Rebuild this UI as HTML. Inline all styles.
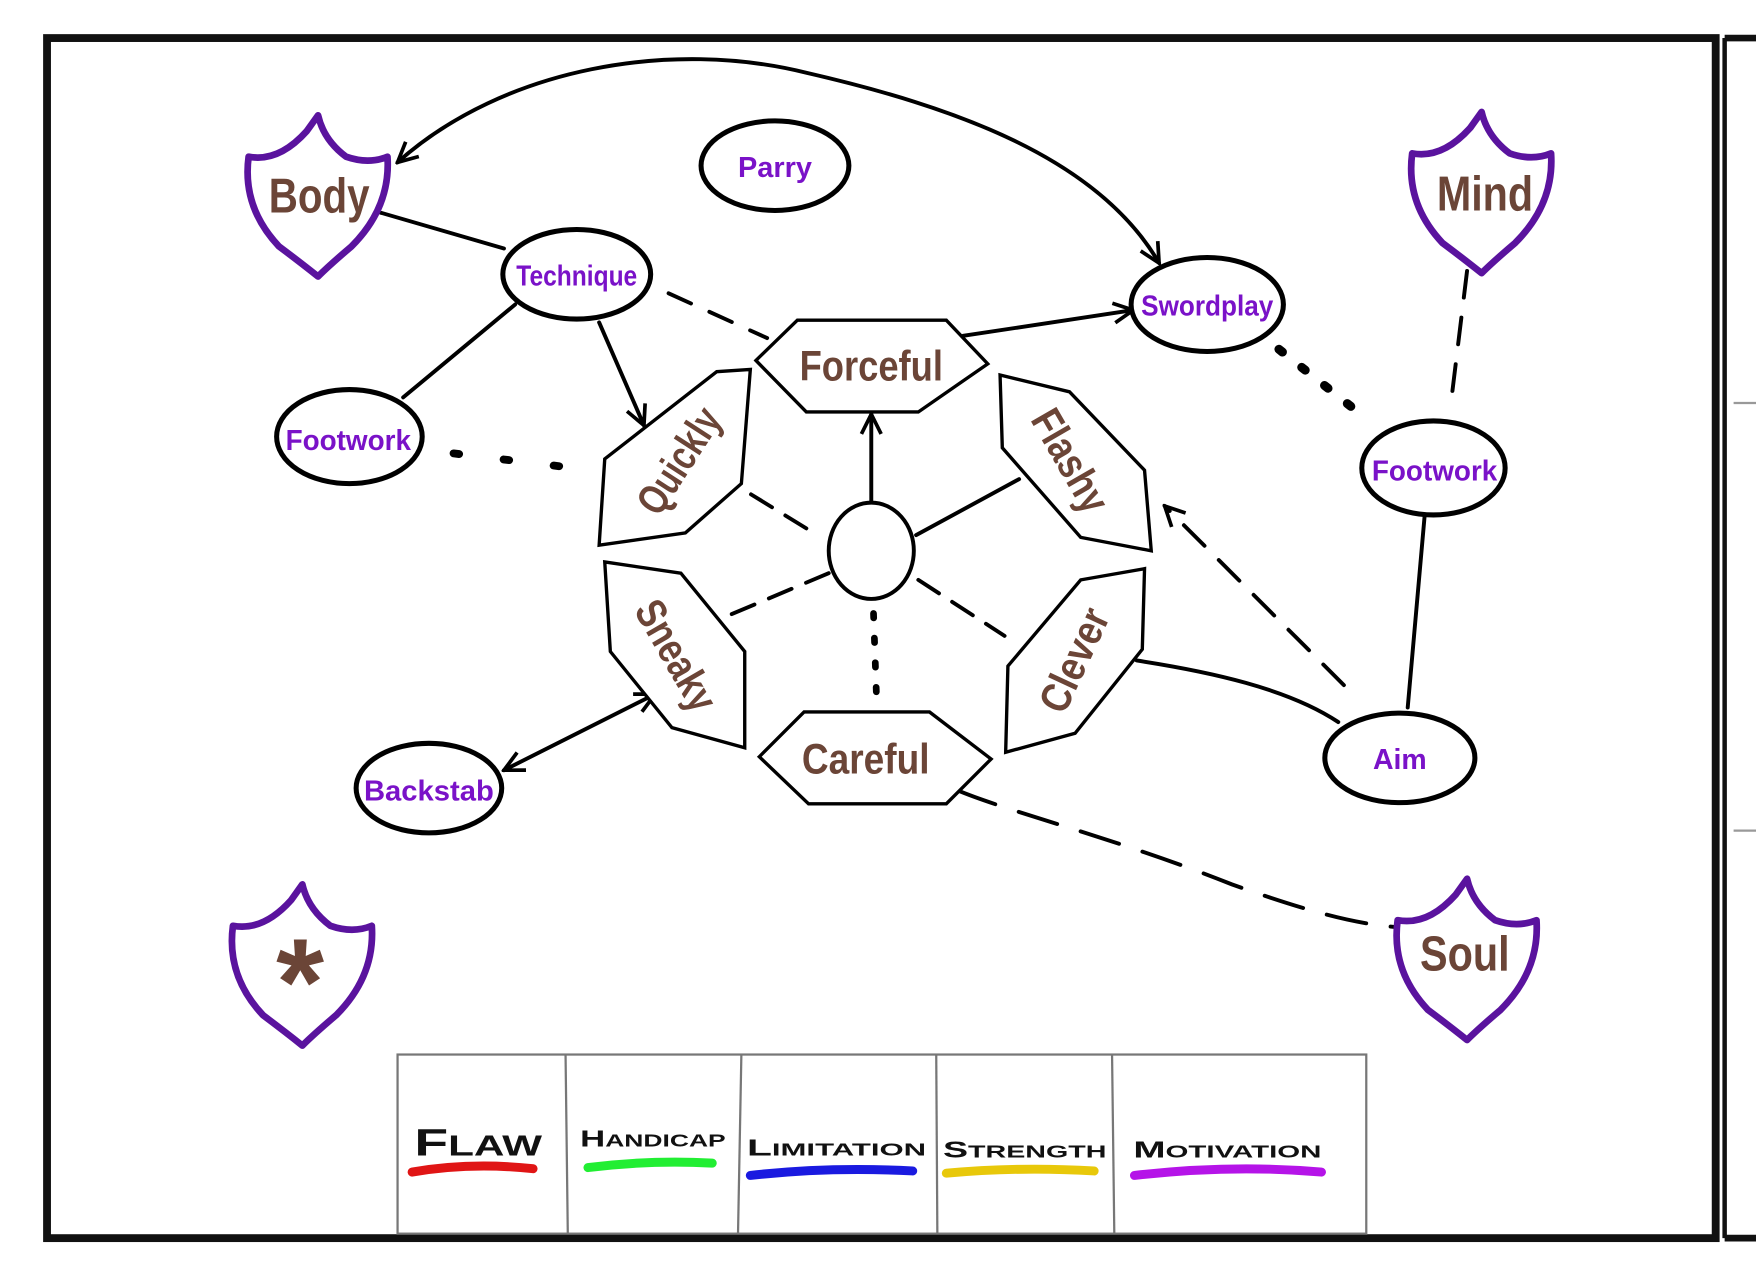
<!DOCTYPE html>
<html><head><meta charset="utf-8"><style>
html,body{margin:0;padding:0;background:#fff;}
svg{display:block;}
text{font-family:"Liberation Sans",sans-serif;font-weight:bold;}
.n{fill:#7a12c8;font-size:26px;}
.h{fill:#6b4537;font-size:38px;}
.s{fill:#6b4537;font-size:44px;}
.lg{fill:#111;font-weight:normal;font-family:"DejaVu Sans","Liberation Sans",sans-serif;}
</style></head><body>
<svg width="1756" height="1265" viewBox="0 0 1568 1130" preserveAspectRatio="none" xmlns="http://www.w3.org/2000/svg">
<defs>
<marker id="a" viewBox="0 0 20 20" refX="18" refY="10" markerWidth="22" markerHeight="22" orient="auto-start-reverse" markerUnits="userSpaceOnUse">
<path d="M2,2 L18,10 L2,18" fill="none" stroke="#000" stroke-width="3"/></marker>
<path id="sh" d="M-62,-35 Q-35,-30 -10,-58 L0,-72 Q5,-50 25,-35 Q45,-28 62,-35 Q65,10 30,45 Q10,62 0,72 Q-15,60 -35,45 Q-68,10 -62,-35 Z"/>
</defs>
<rect width="1568" height="1130" fill="#fff"/>
<!-- frames -->
<rect x="42" y="34" width="1490" height="1072" fill="none" stroke="#111" stroke-width="7"/>
<line x1="1540" y1="34" x2="1568" y2="34" stroke="#111" stroke-width="6"/>
<line x1="1540" y1="34" x2="1540" y2="1106" stroke="#111" stroke-width="4"/>
<line x1="1540" y1="1106" x2="1568" y2="1106" stroke="#111" stroke-width="6"/>
<line x1="1548" y1="360" x2="1568" y2="360" stroke="#999" stroke-width="2"/>
<line x1="1548" y1="742" x2="1568" y2="742" stroke="#999" stroke-width="2"/>

<g fill="none" stroke="#000" stroke-width="3.5" stroke-linecap="round">
<path d="M355,145 C450,60 600,35 720,65 C850,95 980,140 1035,235" marker-start="url(#a)" marker-end="url(#a)"/>
<line x1="340" y1="190" x2="450" y2="222"/>
<line x1="460" y1="272" x2="360" y2="355"/>
<line x1="535" y1="288" x2="575" y2="380" marker-end="url(#a)"/>
<line x1="597" y1="262" x2="685" y2="302" stroke-dasharray="22,18"/>
<line x1="405" y1="405" x2="512" y2="418" stroke-dasharray="5,40" stroke-width="7"/>
<line x1="860" y1="300" x2="1012" y2="277" marker-end="url(#a)"/>
<line x1="778" y1="450" x2="778" y2="370" marker-end="url(#a)"/>
<line x1="818" y1="478" x2="910" y2="428"/>
<line x1="720" y1="472" x2="655" y2="432" stroke-dasharray="22,14"/>
<line x1="740" y1="512" x2="650" y2="550" stroke-dasharray="22,14"/>
<line x1="780" y1="548" x2="783" y2="632" stroke-dasharray="4,18" stroke-width="6"/>
<line x1="820" y1="518" x2="897" y2="568" stroke-dasharray="22,14"/>
<line x1="1142" y1="312" x2="1215" y2="370" stroke-dasharray="4,22" stroke-width="8"/>
<line x1="1310" y1="242" x2="1295" y2="365" stroke-dasharray="24,18"/>
<line x1="1272" y1="462" x2="1257" y2="632"/>
<line x1="1200" y1="612" x2="1040" y2="452" stroke-dasharray="26,18" marker-end="url(#a)"/>
<path d="M1015,590 C1080,600 1150,615 1195,645"/>
<line x1="450" y1="688" x2="585" y2="620" marker-start="url(#a)" marker-end="url(#a)"/>
<path d="M855,706 C900,725 1000,750 1100,790 C1170,815 1210,825 1245,828" stroke-dasharray="36,22"/>
</g>

<!-- ellipses -->
<g fill="#fff" stroke="#000" stroke-width="4.5">
<ellipse cx="692" cy="148" rx="66" ry="40"/>
<ellipse cx="515" cy="245" rx="66" ry="40"/>
<ellipse cx="312" cy="390" rx="65" ry="42"/>
<ellipse cx="1078" cy="272" rx="68" ry="42"/>
<ellipse cx="1280" cy="418" rx="64" ry="42"/>
<ellipse cx="1250" cy="677" rx="67" ry="40"/>
<ellipse cx="383" cy="704" rx="65" ry="40"/>
<ellipse cx="778" cy="492" rx="38" ry="43" stroke-width="3.5"/>
</g>
<g class="n" text-anchor="middle">
<text x="692" y="158" textLength="66" lengthAdjust="spacingAndGlyphs">Parry</text>
<text x="515" y="255" textLength="108" lengthAdjust="spacingAndGlyphs">Technique</text>
<text x="311" y="402" textLength="112" lengthAdjust="spacingAndGlyphs">Footwork</text>
<text x="1078" y="282" textLength="118" lengthAdjust="spacingAndGlyphs">Swordplay</text>
<text x="1281" y="429" textLength="112" lengthAdjust="spacingAndGlyphs">Footwork</text>
<text x="1250" y="687" textLength="48" lengthAdjust="spacingAndGlyphs">Aim</text>
<text x="383" y="715" textLength="116" lengthAdjust="spacingAndGlyphs">Backstab</text>
</g>

<!-- hexagons -->
<g fill="#fff" stroke="#000" stroke-width="3">
<polygon points="675,322 712,286 845,286 882,325 820,368 720,368"/>
<polygon points="678,676 718,636 830,636 885,678 845,718 722,718"/>
<polygon points="540,410 640,332 670,330 662,432 612,476 535,487"/>
<polygon points="893,335 955,350 1022,420 1028,492 965,480 895,400"/>
<polygon points="540,502 608,512 665,582 665,668 600,650 545,582"/>
<polygon points="900,595 965,518 1022,508 1020,580 960,655 898,672"/>
</g>
<g class="h" text-anchor="middle">
<text x="778" y="340" textLength="128" lengthAdjust="spacingAndGlyphs">Forceful</text>
<text x="773" y="691" textLength="114" lengthAdjust="spacingAndGlyphs">Careful</text>
<text transform="translate(607,412) rotate(-57)" textLength="105" lengthAdjust="spacingAndGlyphs" y="12">Quickly</text>
<text transform="translate(955,412) rotate(60)" textLength="100" lengthAdjust="spacingAndGlyphs" y="12">Flashy</text>
<text transform="translate(603,586) rotate(60)" textLength="108" lengthAdjust="spacingAndGlyphs" y="12">Sneaky</text>
<text transform="translate(960,590) rotate(-65)" textLength="98" lengthAdjust="spacingAndGlyphs" y="12">Clever</text>
</g>

<!-- shields -->
<g fill="#fff" stroke="#5a139e" stroke-width="6" stroke-linejoin="round">
<use href="#sh" transform="translate(284,175)"/>
<use href="#sh" transform="translate(1323,172)"/>
<use href="#sh" transform="translate(1310,857)"/>
<use href="#sh" transform="translate(270,862)"/>
</g>
<g class="s" text-anchor="middle">
<text x="285" y="190" textLength="90" lengthAdjust="spacingAndGlyphs">Body</text>
<text x="1326" y="188" textLength="86" lengthAdjust="spacingAndGlyphs">Mind</text>
<text x="1308" y="867" textLength="80" lengthAdjust="spacingAndGlyphs">Soul</text>
<text x="268" y="915" style="font-size:110px">*</text>
</g>

<!-- legend -->
<g stroke="#777" stroke-width="2" fill="none">
<rect x="355" y="942" width="865" height="160"/>
<line x1="505" y1="942" x2="507" y2="1102"/>
<line x1="662" y1="942" x2="659" y2="1102"/>
<line x1="836" y1="942" x2="837" y2="1102"/>
<line x1="993" y1="942" x2="995" y2="1102"/>
</g>
<g class="lg" text-anchor="middle">
<text x="427" y="1032" style="font-size:34px" textLength="114" lengthAdjust="spacingAndGlyphs">F<tspan style="font-size:26px">LAW</tspan></text>
<text x="583" y="1024" style="font-size:21px" textLength="130" lengthAdjust="spacingAndGlyphs">H<tspan style="font-size:16px">ANDICAP</tspan></text>
<text x="747" y="1032" style="font-size:21px" textLength="160" lengthAdjust="spacingAndGlyphs">L<tspan style="font-size:16px">IMITATION</tspan></text>
<text x="915" y="1034" style="font-size:21px" textLength="146" lengthAdjust="spacingAndGlyphs">S<tspan style="font-size:16px">TRENGTH</tspan></text>
<text x="1096" y="1034" style="font-size:21px" textLength="168" lengthAdjust="spacingAndGlyphs">M<tspan style="font-size:16px">OTIVATION</tspan></text>
</g>
<g stroke-linecap="round" stroke-width="8" fill="none">
<path d="M368,1047 Q420,1038 476,1044" stroke="#e01515"/>
<path d="M525,1043 Q580,1036 636,1039" stroke="#22ee33"/>
<path d="M670,1050 Q740,1042 815,1046" stroke="#1a1ae0"/>
<path d="M845,1048 Q910,1042 977,1046" stroke="#e8c80a"/>
<path d="M1013,1050 Q1100,1040 1180,1047" stroke="#b514e8"/>
</g>
</svg>
</body></html>
